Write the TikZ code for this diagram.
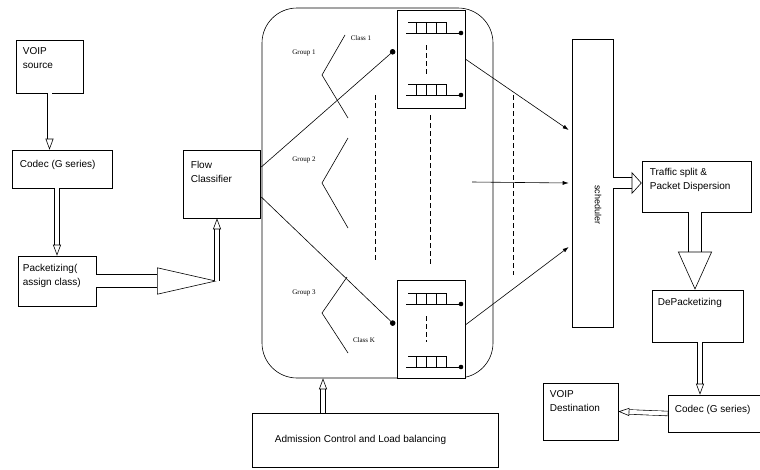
\documentclass[tikz,border=0pt]{standalone}
\usepackage{fontspec}
\setmainfont{Liberation Sans}
\newfontfamily\grpfont{Liberation Serif}
\usetikzlibrary{arrows.meta, calc}

\tikzset{
  box/.style={draw, line width=0.6pt, inner sep=0pt},
  boxtext/.style={anchor=north west, align=left, inner sep=0pt, font=\fontsize{10}{14}\selectfont},
  grptext/.style={inner sep=0pt, font=\grpfont\fontsize{7}{8}\selectfont},
  hollow/.style={double, double distance=4pt, line width=0.6pt, -{Triangle[open, length=11pt, width=8pt]}},
  hollowbig/.style={double, double distance=12pt, line width=0.6pt, -{Triangle[open, length=38pt, width=34pt]}},
  feed/.style={line width=0.6pt, -{Circle[length=5.5pt]}},
  outflow/.style={line width=0.6pt, -{Latex[length=6pt, width=4pt]}},
  guide/.style={dashed, line width=0.5pt, dash pattern=on 5pt off 3pt}
}

\begin{document}
\begin{tikzpicture}[x=1pt, y=-1pt]
      \useasboundingbox (0,0) rectangle (760,469);
      \clip (0,0) rectangle (760,469);

      % Sender side
      \node[box, minimum width=67, minimum height=53] (voip) at (49.5,66.5) {};
      \node[boxtext] at ($(voip.north west)+(7,8)$) {VOIP\\source};
      \node[box, minimum width=100, minimum height=38] (codec) at (62,169) {};
      \node[boxtext] at ($(codec.north west)+(8,10)$) {Codec (G series)};
      \node[box, minimum width=78, minimum height=50] (packet) at (57,281) {};
      \node[boxtext] at ($(packet.north west)+(5,8)$) {Packetizing(\\assign class)};
      \node[box, minimum width=77, minimum height=68] (flow) at (221.5,184) {};
      \node[boxtext] at ($(flow.north west)+(8,11)$) {Flow\\Classifier};

      \draw[hollow] (voip.south) -- (voip.south |- codec.north);
      \draw[hollow] (packet.north |- codec.south) -- (packet.north);
      \coordinate (bend) at (217,281);
      \draw[hollowbig, -{Triangle[open, length=60pt, width=27pt]}] (packet.east) -- (bend);
      \draw[hollow] (bend) -- (bend |- flow.south);

      % Queue pool
      \node[draw, line width=0.6pt, rounded corners=35pt, minimum width=231, minimum height=370] (pool) at (377.5,193) {};
      \node[box, fill=white, minimum width=68, minimum height=98] (qtop) at (431,59) {};
      \node[box, fill=white, minimum width=68, minimum height=98] (qbot) at (431,329) {};
      \foreach \qy in {33,95,304,367} {
            \draw[line width=0.6pt] (406,\qy) -- (461,\qy);
            \draw[line width=0.6pt] (408,\qy-11) -- (446,\qy-11);
            \foreach \qx in {416,426,436,446}
                  \draw[line width=0.6pt] (\qx,\qy-11) -- (\qx,\qy);
            \fill (461,\qy) circle (2.3);
      }
      \draw[guide] (426,45) -- (426,75);
      \draw[guide] (426,316) -- (426,342);

      \draw[feed] ($(flow.east)+(1,-17)$) -- ($(qtop.west)+(-2,-9)$);
      \draw[feed] ($(flow.east)+(1,13)$) -- ($(qbot.west)+(-2,-4)$);

      % Groups and classes
      \draw[line width=0.6pt] (345,35) -- (322,75) -- (348,118);
      \draw[line width=0.6pt] (348,138) -- (322,183) -- (348,228);
      \draw[line width=0.6pt] (347,277) -- (322,313) -- (348,353);
      \node[grptext] (g1) at (304,53) {Group 1};
      \node[grptext] (g2) at (304,160) {Group 2};
      \node[grptext] (g3) at (304,293) {Group 3};
      \node[grptext] (c1) at (361,38) {Class 1};
      \node[grptext] (ck) at (364,340) {Class K};

      \draw[guide] (375,95) -- (375,260);
      \draw[guide] (430,115) -- (430,265);
      \draw[guide] (513,95) -- (513,275);

      % Scheduler
      \node[box, minimum width=41, minimum height=288] (sched) at (592.5,183) {};
      \node[inner sep=0pt, rotate=-90, font=\fontsize{9}{10}\selectfont] (schedtxt) at (598,205) {scheduler};
      \coordinate (mid) at (472,182);
      \draw[outflow] (qtop.east) -- ($(sched.west)+(-3,-53)$);
      \draw[outflow] (mid) -- ($(sched.west)+(-3,0)$);
      \draw[outflow] ($(qbot.east)+(0,-4)$) -- ($(sched.west)+(-3,64)$);

      % Admission control
      \node[box, minimum width=246, minimum height=54] (adm) at (375,440) {};
      \node[boxtext, anchor=west] at ($(adm.west)+(23,0)$) {Admission Control and Load balancing};
      \coordinate (admup) at (323,413);
      \draw[hollow] (admup) -- (admup |- pool.south);

      % Receiver side
      \node[box, minimum width=109, minimum height=51] (traffic) at (696.5,186.5) {};
      \node[boxtext] at ($(traffic.north west)+(8,7)$) {Traffic split \&\\Packet Dispersion};
      \node[box, minimum width=91, minimum height=52] (depack) at (697.5,316) {};
      \node[boxtext] at ($(depack.north west)+(6,8)$) {DePacketizing};
      \node[box, minimum width=100, minimum height=37] (codec2) at (718,413.5) {};
      \node[boxtext] at ($(codec2.north west)+(7,10)$) {Codec (G series)};
      \node[box, minimum width=75, minimum height=57] (dest) at (580.5,411.5) {};
      \node[boxtext] at ($(dest.north west)+(7,8)$) {VOIP\\Destination};

      \coordinate (down1) at (695,0);
      \coordinate (down2) at (700,0);
      \draw[hollow, double distance=10pt, -{Triangle[open, length=10pt, width=22pt]}] (sched.east) -- (sched.east -| traffic.west);
      \draw[hollowbig] (traffic.south -| down1) -- (depack.north -| down1);
      \draw[hollow] (depack.south -| down2) -- (codec2.north -| down2);
      \draw[hollow] (codec2.west) -- (dest.east);
\end{tikzpicture}
\end{document}
